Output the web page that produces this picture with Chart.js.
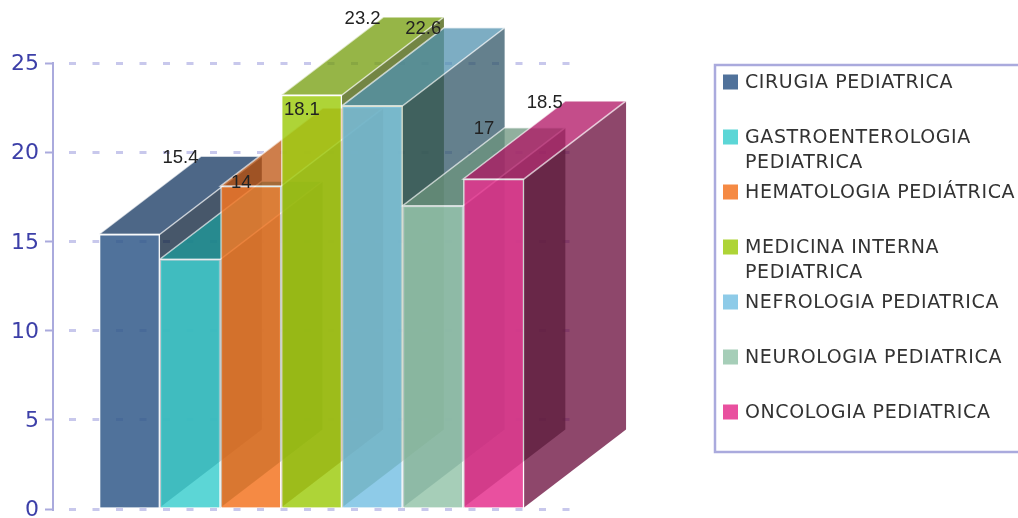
<!DOCTYPE html>
<html>
<head>
<meta charset="utf-8">
<title>Especialidades pediátricas</title>
<script src="https://cdn.jsdelivr.net/npm/chart.js@4"></script>
<style>
    body { margin: 0; background: #fff; }
    canvas { display: block; }
</style>
</head>
<body>
<canvas id="grafico" width="1018" height="518"></canvas>
<script>
// Datos
const especialidades = [
    ['CIRUGIA PEDIATRICA'],
    ['GASTROENTEROLOGIA', 'PEDIATRICA'],
    ['HEMATOLOGIA PEDIÁTRICA'],
    ['MEDICINA INTERNA', 'PEDIATRICA'],
    ['NEFROLOGIA PEDIATRICA'],
    ['NEUROLOGIA PEDIATRICA'],
    ['ONCOLOGIA PEDIATRICA']
];
const valores = [15.4, 14, 18.1, 23.2, 22.6, 17, 18.5];

// Tono de laterales y tapas
const colores = [
    [22, 67, 122],
    [39, 200, 200],
    [242, 107, 19],
    [147, 200, 11],
    [104, 186, 224],
    [138, 190, 160],
    [226, 22, 127]
];
// Tono de los frentes y de la leyenda
const coloresFrente = [
    [49, 89, 137],
    [64, 207, 207],
    [243, 118, 35],
    [160, 205, 20],
    [122, 194, 228],
    [151, 197, 172],
    [229, 49, 142]
];

// Profundidad de las barras 3D
const fondoX = 102;
const fondoY = 78;
const alfa = 0.75;
const alfaFrente = 0.85;
const trazoClaro = 'rgba(255, 255, 255, 0.65)';

const tono = (rgb, factor, a) =>
    `rgba(${rgb.map(c => Math.round(c * factor)).join(', ')}, ${a})`;

function poligono(ctx, puntos, relleno) {
    ctx.beginPath();
    puntos.forEach(([x, y], i) => (i ? ctx.lineTo(x, y) : ctx.moveTo(x, y)));
    ctx.closePath();
    ctx.fillStyle = relleno;
    ctx.fill();
}

// Cara lateral y tapa de cada barra, por detrás de los frentes
const caras3d = {
    id: 'caras3d',
    beforeDatasetsDraw(chart) {
        const ctx = chart.ctx;
        ctx.save();
        ctx.strokeStyle = trazoClaro;
        ctx.lineWidth = 1.5;
        chart.getDatasetMeta(0).data.forEach((barra, i) => {
            const izq = barra.x - barra.width / 2;
            const der = barra.x + barra.width / 2;
            poligono(ctx, [
                [der, barra.base],
                [der + fondoX, barra.base - fondoY],
                [der + fondoX, barra.y - fondoY],
                [der, barra.y]
            ], tono(colores[i], 0.46, alfa));
            poligono(ctx, [
                [izq, barra.y],
                [der, barra.y],
                [der + fondoX, barra.y - fondoY],
                [izq + fondoX, barra.y - fondoY]
            ], tono(colores[i], 0.78, alfa));
            ctx.stroke();
        });
        ctx.restore();
    }
};

// Valores encima de cada barra, centrados en la tapa
const etiquetas = {
    id: 'etiquetas',
    afterDatasetsDraw(chart) {
        const ctx = chart.ctx;
        ctx.save();
        ctx.font = '18.5px "Liberation Sans"';
        ctx.fillStyle = '#222';
        ctx.textAlign = 'center';
        ctx.textBaseline = 'middle';
        chart.getDatasetMeta(0).data.forEach((barra, i) => {
            ctx.fillText(String(valores[i]), barra.x + fondoX / 2, barra.y - fondoY + 1.5);
        });
        ctx.restore();
    }
};

// Leyenda en recuadro, con textos de una o dos líneas
const leyenda = {
    id: 'leyenda',
    afterDraw(chart) {
        const ctx = chart.ctx;
        ctx.save();
        ctx.strokeStyle = '#aaaadd';
        ctx.lineWidth = 2.5;
        ctx.strokeRect(715, 65, 310, 387);
        ctx.font = '19px "DejaVu Sans"';
        ctx.letterSpacing = '0.6px';
        ctx.textBaseline = 'middle';
        especialidades.forEach((lineas, i) => {
            const y = 82 + i * 55;
            ctx.fillStyle = tono(coloresFrente[i], 1, alfaFrente);
            ctx.fillRect(723, y - 7.5, 15, 15);
            ctx.fillStyle = '#333';
            lineas.forEach((texto, n) => ctx.fillText(texto, 745, y + 1 + n * 25));
        });
        ctx.restore();
    }
};

new Chart(document.getElementById('grafico'), {
    type: 'bar',
    data: {
        datasets: [{
            data: valores.map((v, i) => ({ x: i, y: v })),
            backgroundColor: coloresFrente.map(c => tono(c, 1, alfaFrente)),
            borderColor: trazoClaro,
            borderWidth: 1.5,
            borderSkipped: 'bottom',
            barPercentage: 1,
            categoryPercentage: 1
        }]
    },
    plugins: [caras3d, etiquetas, leyenda],
    options: {
        responsive: false,
        animation: false,
        layout: { autoPadding: false, padding: { top: 63, right: 448, bottom: 9, left: 0 } },
        plugins: {
            legend: { display: false },
            tooltip: { enabled: false }
        },
        scales: {
            x: { type: 'linear', display: false, offset: false, min: -1.26, max: 7.257 },
            y: {
                min: 0,
                max: 25,
                afterFit(escala) {
                    escala.width = 53;
                    escala.paddingTop = 0;
                    escala.paddingBottom = 0;
                },
                ticks: {
                    stepSize: 5,
                    padding: 6,
                    labelOffset: 1.5,
                    color: '#3c3fa8',
                    font: { family: '"DejaVu Sans"', size: 22 }
                },
                border: { color: '#aaaadd', width: 2, dash: [7, 16.5], dashOffset: 8.5 },
                grid: {
                    color: '#c8c8ec',
                    lineWidth: 3,
                    tickLength: 8,
                    tickColor: '#aaaadd',
                    tickWidth: 2
                }
            }
        }
    }
});
</script>
</body>
</html>
